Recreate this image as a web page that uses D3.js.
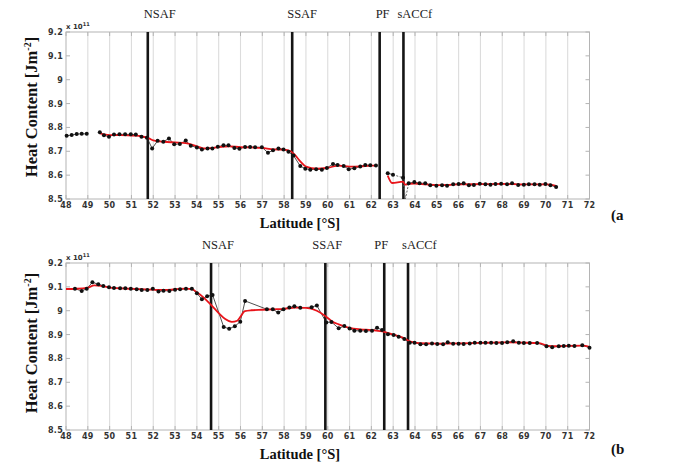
<!DOCTYPE html>
<html>
<head>
<meta charset="utf-8">
<script src="https://cdn.jsdelivr.net/npm/d3@7"></script>
<style>
    body { margin: 0; background: #fff; }
    svg { display: block; }
</style>
</head>
<body>
<div id="plot"></div>
<script>
//Front names, shared by both panels
const fronts = ["NSAF", "SSAF", "PF", "sACCf"];
//Tick values
const latTicks = [48, 49, 50, 51, 52, 53, 54, 55, 56, 57, 58, 59, 60, 61, 62, 63, 64, 65, 66, 67, 68, 69, 70, 71, 72];
const heatTicks = [8.5, 8.6, 8.7, 8.8, 8.9, 9, 9.1, 9.2];

//Panel (a): observed heat content (x 1e11), null = gap
const aLat = [48.03, 48.26, 48.49, 48.72, 48.95, null,
    49.55, 49.74, 49.97, 50.2, 50.45, 50.71, 50.97, 51.2, 51.46, 51.71, 51.95, 52.2, 52.46, 52.72, 52.96, 53.22, 53.49, 53.72,
    54.0, 54.23, 54.49, 54.71, 54.96, 55.22, 55.45, 55.72, 55.95, 56.21, 56.44, 56.67, 56.98, 57.26, 57.49, 57.74, 57.97,
    58.2, 58.43, 58.74, 58.97, 59.2, 59.47, 59.73, 59.96, 60.24, 60.45, 60.73, 60.96, 61.22, 61.49, 61.72, 61.95, 62.21, null,
    62.75, 62.99, 63.45, 63.56, 63.71, 63.97, 64.21, 64.47, 64.7, 64.98, 65.24, 65.47, 65.75, 66.0, 66.23, 66.47, 66.7,
    66.97, 67.23, 67.46, 67.69, 67.95, 68.22, 68.45, 68.73, 68.99, 69.22, 69.48, 69.72, 69.98, 70.21, 70.47];
const aHeat = [8.765, 8.768, 8.772, 8.773, 8.773, null,
    8.780, 8.767, 8.761, 8.770, 8.771, 8.771, 8.771, 8.770, 8.761, 8.757, 8.712, 8.744, 8.740, 8.754, 8.729, 8.731, 8.745, 8.723,
    8.716, 8.708, 8.712, 8.712, 8.719, 8.725, 8.725, 8.714, 8.711, 8.718, 8.718, 8.717, 8.717, 8.694, 8.704, 8.712, 8.708,
    8.698, 8.682, 8.638, 8.627, 8.623, 8.625, 8.623, 8.630, 8.647, 8.643, 8.638, 8.625, 8.629, 8.636, 8.643, 8.641, 8.640, null,
    8.608, 8.602, 8.589, 8.500, 8.566, 8.571, 8.566, 8.566, 8.558, 8.556, 8.558, 8.556, 8.562, 8.563, 8.566, 8.558, 8.559,
    8.564, 8.562, 8.560, 8.563, 8.564, 8.562, 8.566, 8.559, 8.560, 8.562, 8.562, 8.560, 8.563, 8.558, 8.550];
//Panel (a): smoothed (red) curve
const aFitLat = [49.55, 50, 50.5, 51, 51.5, 51.8, 52, 52.5, 53, 53.5, 54, 54.3, 54.6, 55, 55.5, 56, 56.5, 57, 57.5, 58,
    58.3, 58.5, 58.75, 59, 59.5, 60, 60.5, 61, 61.5, 62, 62.21, null,
    62.75, 62.95, 63.45, 63.55, 63.7, 64, 64.5, 65, 65.5, 66, 67, 68, 69, 70, 70.47];
const aFitHeat = [8.775, 8.768, 8.768, 8.766, 8.762, 8.754, 8.746, 8.740, 8.737, 8.734, 8.721, 8.712, 8.713, 8.718, 8.721,
    8.717, 8.716, 8.714, 8.708, 8.707, 8.700, 8.684, 8.657, 8.636, 8.627, 8.631, 8.640, 8.636, 8.637, 8.640, 8.640, null,
    8.598, 8.567, 8.573, 8.560, 8.563, 8.565, 8.561, 8.558, 8.559, 8.561, 8.562, 8.563, 8.561, 8.561, 8.555];
const aFrontLat = [51.75, 58.37, 62.38, 63.47];

//Panel (b): observed heat content (x 1e11)
const bLat = [48.41, 48.72, 48.95, 49.21, 49.48, 49.71, 49.97, 50.2, 50.48, 50.72, 50.97, 51.24, 51.47, 51.73, 51.98,
    52.24, 52.47, 52.74, 53.0, 53.23, 53.5, 53.77, 54.0, 54.23, 54.47, 54.72, 55.23, 55.48, 55.74, 55.99, 56.21,
    57.21, 57.48, 57.73, 57.97, 58.24, 58.47, 58.74, 59.26, 59.5, 59.93, 60.17, 60.5, 60.76, 61.0, 61.22, 61.49, 61.75,
    62.03, 62.26, 62.49, 62.76, 63.02, 63.25, 63.51, 63.76, 63.98, 64.25, 64.51, 64.78, 65.02, 65.29, 65.5, 65.75, 66.0,
    66.23, 66.51, 66.74, 67.0, 67.23, 67.49, 67.73, 67.99, 68.23, 68.5, 68.76, 68.99, 69.26, 69.6, 70.03, 70.29, 70.59,
    70.82, 71.05, 71.31, 71.67, 72.0];
const bHeat = [9.092, 9.083, 9.092, 9.119, 9.111, 9.104, 9.098, 9.095, 9.094, 9.094, 9.092, 9.090, 9.087, 9.087, 9.092,
    9.081, 9.084, 9.083, 9.088, 9.090, 9.092, 9.092, 9.073, 9.048, 9.061, 9.066, 8.932, 8.924, 8.935, 8.954, 9.041,
    9.006, 9.006, 8.992, 9.006, 9.013, 9.019, 9.012, 9.015, 9.022, 8.951, 8.953, 8.926, 8.936, 8.925, 8.916, 8.916, 8.915,
    8.916, 8.929, 8.919, 8.901, 8.898, 8.891, 8.881, 8.866, 8.866, 8.859, 8.859, 8.863, 8.861, 8.859, 8.868, 8.862, 8.862,
    8.861, 8.863, 8.866, 8.866, 8.866, 8.866, 8.865, 8.865, 8.868, 8.872, 8.866, 8.865, 8.865, 8.865, 8.851, 8.847, 8.851,
    8.852, 8.853, 8.852, 8.855, 8.845];
//Panel (b): smoothed (red) curve
const bFitLat = [48, 48.5, 49, 49.3, 49.6, 50, 51, 52, 52.5, 53, 53.5, 53.8, 54, 54.3, 54.65, 55, 55.3, 55.6, 55.85, 56,
    56.2, 56.5, 57, 57.5, 58, 58.5, 59, 59.5, 59.9, 60.2, 60.5, 61, 61.5, 62, 62.5, 63, 63.5, 63.8, 64.2, 65, 66, 67, 68,
    69, 69.7, 70.1, 70.5, 71, 71.7, 72];
const bFitHeat = [9.091, 9.092, 9.097, 9.106, 9.104, 9.097, 9.092, 9.088, 9.087, 9.090, 9.093, 9.089, 9.077, 9.056, 9.024,
    8.990, 8.965, 8.953, 8.958, 8.975, 8.998, 9.002, 9.004, 9.006, 9.008, 9.013, 9.012, 9.000, 8.977, 8.955, 8.943, 8.928,
    8.922, 8.919, 8.913, 8.900, 8.885, 8.870, 8.864, 8.862, 8.863, 8.865, 8.867, 8.866, 8.864, 8.853, 8.851, 8.853, 8.854, 8.848];
const bFrontLat = [54.65, 59.89, 62.59, 63.68];

//Create the svg
const w = 683;
const h = 462;
const svg = d3.select("#plot")
    .append("svg")
    .attr("width", w)
    .attr("height", h);
svg.append("rect").attr("width", w).attr("height", h).attr("fill", "#fff");

const serif = "'Liberation Serif', 'Times New Roman', serif";
const sans = "'DejaVu Sans', sans-serif";

//Zip two arrays into point objects (null stays a gap)
const zip = (xs, ys) => xs.map((x, i) => ({ x: x, y: ys[i] }));

//Draws one panel
const drawPanel = (cfg) => {
    const x = d3.scaleLinear().domain([48, 72]).range([66, 589.5]);
    const y = d3.scaleLinear().domain([8.5, 9.2]).range([cfg.bottom, cfg.top]);
    const g = svg.append("g");
    const axisCol = "#b4b4b4";

    //Vertical grid lines
    g.selectAll(".grid")
        .data(latTicks.slice(1, -1))
        .join("line")
        .attr("x1", d => x(d)).attr("x2", d => x(d))
        .attr("y1", cfg.top).attr("y2", cfg.bottom)
        .attr("stroke", "#dcdcdc")
        .attr("stroke-width", 1.1);

    //Box
    g.append("rect")
        .attr("x", x(48)).attr("y", cfg.top)
        .attr("width", x(72) - x(48)).attr("height", cfg.bottom - cfg.top)
        .attr("fill", "none")
        .attr("stroke", axisCol)
        .attr("stroke-width", 1);

    //Small ticks, inward, on all four sides
    g.selectAll(".ty")
        .data(heatTicks)
        .join("path")
        .attr("d", d => `M${x(48)},${y(d)}h4M${x(72)},${y(d)}h-4`)
        .attr("stroke", axisCol);
    g.selectAll(".tx")
        .data(latTicks)
        .join("path")
        .attr("d", d => `M${x(d)},${cfg.bottom}v-4M${x(d)},${cfg.top}v4`)
        .attr("stroke", axisCol);

    //Tick labels
    g.selectAll(".ly")
        .data(heatTicks)
        .join("text")
        .attr("x", x(48) - 3)
        .attr("y", d => y(d) + 3)
        .attr("text-anchor", "end")
        .attr("font-family", sans)
        .attr("font-weight", "bold")
        .attr("font-size", 8)
        .attr("letter-spacing", 0.3)
        .attr("fill", "#333")
        .text(d => d3.format("~g")(d));
    g.selectAll(".lx")
        .data(latTicks)
        .join("text")
        .attr("x", d => x(d))
        .attr("y", cfg.bottom + 9)
        .attr("text-anchor", "middle")
        .attr("font-family", sans)
        .attr("font-weight", "bold")
        .attr("font-size", 8)
        .attr("letter-spacing", 0.3)
        .attr("fill", "#333")
        .text(d => d);

    //Exponent label
    const ex = g.append("text")
        .attr("x", x(48))
        .attr("y", cfg.top - 3)
        .attr("font-family", sans)
        .attr("font-weight", "bold")
        .attr("font-size", 7)
        .attr("fill", "#333");
    ex.append("tspan").text("x 10");
    ex.append("tspan").attr("dy", -3).attr("font-size", 5).text("11");

    //Front lines and labels
    g.selectAll(".front")
        .data(cfg.fronts)
        .join("line")
        .attr("x1", d => x(d)).attr("x2", d => x(d))
        .attr("y1", cfg.top).attr("y2", cfg.bottom)
        .attr("stroke", "#151515")
        .attr("stroke-width", 2.6);
    g.selectAll(".flab")
        .data(fronts)
        .join("text")
        .attr("x", (d, i) => x(cfg.fronts[i]) + cfg.labelDx[i])
        .attr("y", cfg.labelY)
        .attr("font-family", serif)
        .attr("font-size", 12.5)
        .attr("fill", "#222")
        .text(d => d);

    //Observed line and dots
    const obs = zip(cfg.lat, cfg.heat);
    const line = d3.line()
        .defined(d => d.x != null && d.y != null)
        .x(d => x(d.x))
        .y(d => y(d.y));
    //Points strictly inside the dashed range are drawn only by the dotted grey path
    const inside = (d) => cfg.dash && d.x != null && d.x > cfg.dash[0] && d.x < cfg.dash[1];
    const inRange = (d) => cfg.dash && d.x != null && d.x >= cfg.dash[0] && d.x <= cfg.dash[1];
    g.append("path")
        .datum(obs.map(d => inside(d) ? { x: null, y: null } : d))
        .attr("d", line)
        .attr("fill", "none")
        .attr("stroke", "#222")
        .attr("stroke-width", 0.8);
    if (cfg.dash) {
        g.append("path")
            .datum(obs.filter(inRange))
            .attr("d", line)
            .attr("fill", "none")
            .attr("stroke", "#666")
            .attr("stroke-width", 1)
            .attr("stroke-dasharray", "2,1.5");
    }

    //Smoothed red curve
    g.append("path")
        .datum(zip(cfg.fitLat, cfg.fitHeat))
        .attr("d", d3.line()
            .defined(d => d.x != null)
            .curve(d3.curveMonotoneX)
            .x(d => x(d.x))
            .y(d => y(d.y)))
        .attr("fill", "none")
        .attr("stroke", "#e8141a")
        .attr("stroke-width", 1.8);

    g.selectAll(".dot")
        .data(obs.filter(d => d.x != null && d.y > 8.505))
        .join("circle")
        .attr("cx", d => x(d.x))
        .attr("cy", d => y(d.y))
        .attr("r", 2)
        .attr("fill", "#111");

    //Axis titles
    g.append("text")
        .attr("x", 300)
        .attr("y", cfg.bottom + 29)
        .attr("text-anchor", "middle")
        .attr("font-family", serif)
        .attr("font-weight", "bold")
        .attr("font-size", 14.5)
        .attr("fill", "#111")
        .text("Latitude [°S]");
    const yt = g.append("text")
        .attr("transform", `translate(37,${cfg.titleY}) rotate(-90)`)
        .attr("text-anchor", "middle")
        .attr("font-family", serif)
        .attr("font-weight", "bold")
        .attr("font-size", 16.5)
        .attr("fill", "#111");
    yt.append("tspan").text("Heat Content [Jm");
    yt.append("tspan").attr("dy", -6).attr("font-size", 10).text("-2");
    yt.append("tspan").attr("dy", 6).text("]");

    //Panel tag
    g.append("text")
        .attr("x", 611)
        .attr("y", cfg.tagY)
        .attr("font-family", serif)
        .attr("font-weight", "bold")
        .attr("font-size", 15)
        .attr("fill", "#111")
        .text(cfg.tag);
};

drawPanel({
    top: 32, bottom: 199, labelY: 18, titleY: 107, tagY: 220, tag: "(a",
    lat: aLat, heat: aHeat, fitLat: aFitLat, fitHeat: aFitHeat,
    fronts: aFrontLat, labelDx: [-4, -5, -4, -6], dash: [62.99, 63.71]
});
drawPanel({
    top: 263, bottom: 430, labelY: 249, titleY: 343, tagY: 454, tag: "(b",
    lat: bLat, heat: bHeat, fitLat: bFitLat, fitHeat: bFitHeat,
    fronts: bFrontLat, labelDx: [-9, -13, -10, -6], dash: null
});
</script>
</body>
</html>
